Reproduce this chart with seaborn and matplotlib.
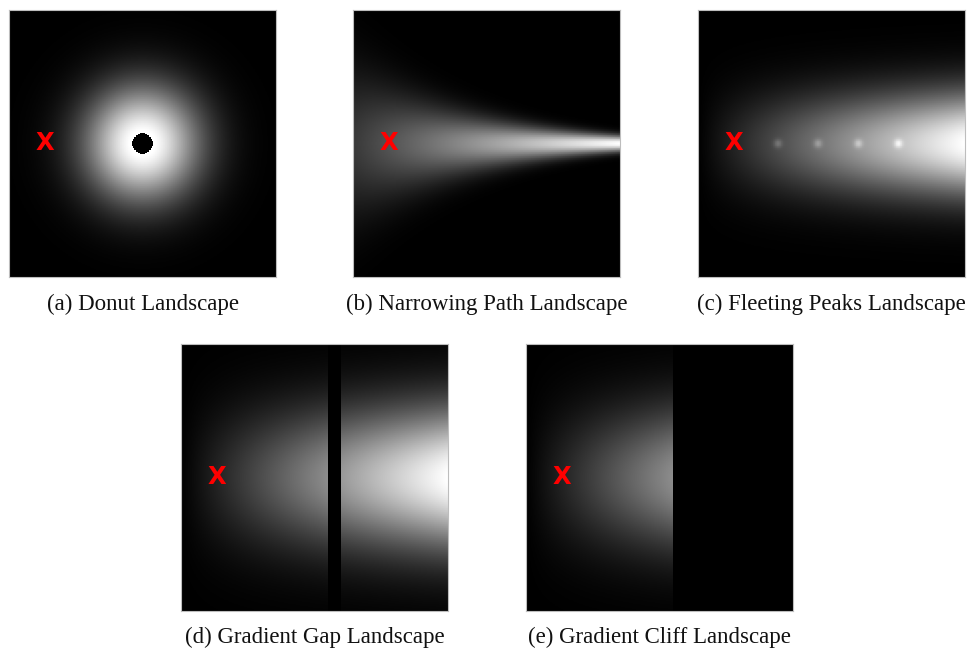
import numpy as np
import matplotlib
matplotlib.use("Agg")
import matplotlib.pyplot as plt
import seaborn as sns

sns.set_style("white")
plt.rcParams["font.family"] = ["Liberation Serif", "DejaVu Serif"]

# ---------------- data (landscape parameters) -------------
grid_n = 400
captions = ["(a) Donut Landscape", "(b) Narrowing Path Landscape",
            "(c) Fleeting Peaks Landscape", "(d) Gradient Gap Landscape",
            "(e) Gradient Cliff Landscape"]
start_point = [0.135, 0.5]          # red X (fraction of width, height)

donut_center = [0.5, 0.5]
donut_sigma = 0.15
donut_gain = 1.05
donut_hole_radius = 0.037

path_sigma = [0.19, 0.02]           # y-spread at left / right edge
path_amp = [0.22, 1.0]              # brightness at left / right edge

peaks_band_sigma = 0.135
peak_x = [0.30, 0.45, 0.60, 0.75]
peak_boost = [0.16, 0.17, 0.19, 0.22]
peak_sigma = 0.011

gradient_sigma = 0.185
gap_x = [0.55, 0.60]
cliff_x = 0.55

# ---------------- build the fields -------------
c = (np.arange(grid_n) + 0.5) / grid_n
X, Y = np.meshgrid(c, c)

r = np.hypot(X - donut_center[0], Y - donut_center[1])
donut = np.clip(donut_gain * np.exp(-r**2 / (2 * donut_sigma**2)), 0, 1)
donut[r < donut_hole_radius] = 0.0

sig = path_sigma[0] * (path_sigma[1] / path_sigma[0]) ** X
amp = path_amp[0] + (path_amp[1] - path_amp[0]) * X
narrow = amp * np.exp(-(Y - 0.5)**2 / (2 * sig**2))

peaks = X * np.exp(-(Y - 0.5)**2 / (2 * peaks_band_sigma**2))
for px, pb in zip(peak_x, peak_boost):
    peaks = peaks + pb * np.exp(-((X - px)**2 + (Y - 0.5)**2) / (2 * peak_sigma**2))
peaks = np.clip(peaks, 0, 1)

grad = X * np.exp(-(Y - 0.5)**2 / (2 * gradient_sigma**2))
gap = grad.copy()
gap[(X >= gap_x[0]) & (X <= gap_x[1])] = 0.0
cliff = grad.copy()
cliff[X > cliff_x] = 0.0

fields = [donut, narrow, peaks, gap, cliff]

# ---------------- layout -------------
W, H = 972, 649
fig = plt.figure(figsize=(W / 100, H / 100), dpi=100)
boxes = [(9, 10), (353, 10), (698, 10), (181, 344), (526, 344)]
size = 267
cap_y = [304, 304, 304, 637, 637]

for field, (lx, ty), cap, cy in zip(fields, boxes, captions, cap_y):
    ax = fig.add_axes([lx / W, 1 - (ty + size) / H, size / W, size / H])
    sns.heatmap(field, ax=ax, cmap="gray", vmin=0, vmax=1, cbar=False,
                xticklabels=False, yticklabels=False, rasterized=True)
    for s in ax.spines.values():
        s.set_visible(True)
        s.set_color("#bdbdbd")
        s.set_linewidth(0.8)
    ax.text(start_point[0] * grid_n, start_point[1] * grid_n, "X",
            color="#ff0000", fontsize=17.5, fontweight="bold",
            family="DejaVu Sans", ha="center", va="center")
    fig.text((lx + size / 2) / W, 1 - cy / H, cap, ha="center", va="center",
             fontsize=16.5, color="#111111")

fig.savefig("out.png", dpi=100, facecolor="white")
